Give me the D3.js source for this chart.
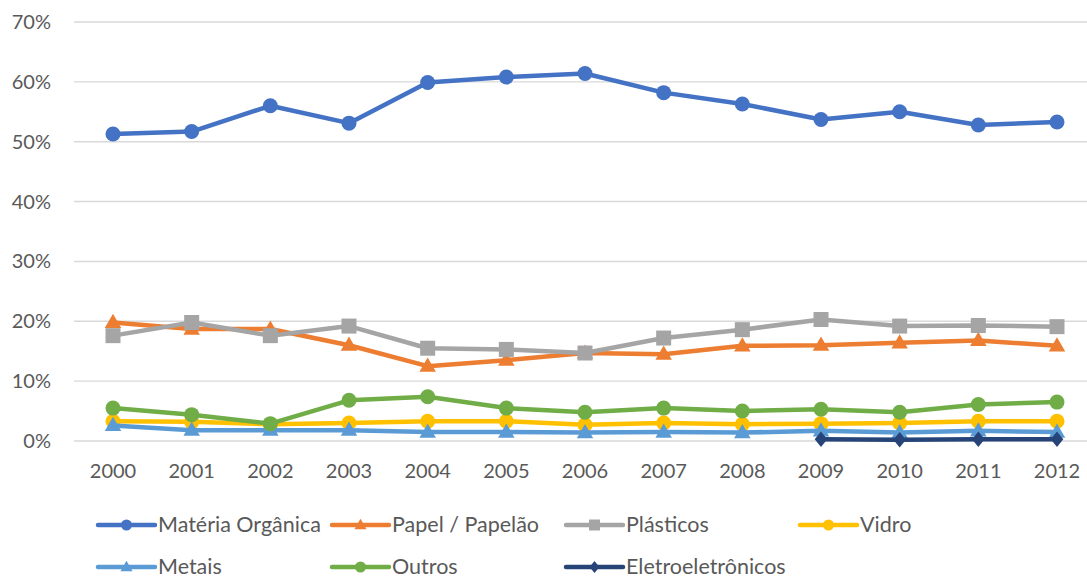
<!DOCTYPE html>
<html>
<head>
<meta charset="utf-8">
<script src="https://cdn.jsdelivr.net/npm/d3@7"></script>
<style>
  html, body { margin: 0; padding: 0; background: #fff; }
  svg { display: block; }
  text { font-family: Lato, "Open Sans", sans-serif; fill: #595959; }
</style>
</head>
<body>
<svg id="chart" width="1087" height="580"></svg>
<script>
// Anos e composição percentual dos resíduos
const years = ["2000","2001","2002","2003","2004","2005","2006","2007","2008","2009","2010","2011","2012"];
const materiaOrganica = [51.3, 51.7, 56.0, 53.1, 59.9, 60.8, 61.4, 58.2, 56.3, 53.7, 55.0, 52.8, 53.3];
const papelPapelao    = [19.8, 18.7, 18.7, 16.0, 12.5, 13.5, 14.7, 14.5, 15.9, 16.0, 16.4, 16.8, 15.9];
const plasticos       = [17.6, 19.8, 17.6, 19.2, 15.5, 15.3, 14.7, 17.2, 18.6, 20.3, 19.2, 19.3, 19.1];
const vidro           = [3.3, 3.2, 2.8, 3.0, 3.3, 3.3, 2.7, 3.0, 2.8, 2.9, 3.0, 3.3, 3.3];
const metais          = [2.6, 1.8, 1.8, 1.8, 1.5, 1.5, 1.4, 1.5, 1.4, 1.7, 1.4, 1.7, 1.5];
const outros          = [5.5, 4.4, 2.9, 6.8, 7.4, 5.5, 4.8, 5.5, 5.0, 5.3, 4.8, 6.1, 6.5];
const eletro          = [null, null, null, null, null, null, null, null, null, 0.3, 0.2, 0.3, 0.3];
const yTicks = [0, 10, 20, 30, 40, 50, 60, 70];

const seriesNames = ["Matéria Orgânica","Papel / Papelão","Plásticos","Vidro","Metais","Outros","Eletroeletrônicos"];
const seriesValues = [materiaOrganica, papelPapelao, plasticos, vidro, metais, outros, eletro];
const seriesColors = ["#4472C4","#ED7D31","#A5A5A5","#FFC000","#5B9BD5","#70AD47","#264478"];
const seriesMarkers = ["circle","triangle","square","circle","triangle","circle","diamond"];

const svg = d3.select("#chart");

const x = d3.scalePoint().domain(years).range([113, 1057]);
const y = d3.scaleLinear().domain([0, 70]).range([441, 22]);

// Gridlines
svg.append("g").selectAll("line").data(yTicks).join("line")
  .attr("x1", 74).attr("x2", 1096)
  .attr("y1", d => y(d)).attr("y2", d => y(d))
  .attr("stroke", "#D9D9D9").attr("stroke-width", 1.4);

// Y axis labels
svg.append("g").selectAll("text").data(yTicks).join("text")
  .attr("x", 51).attr("y", d => y(d) + 7)
  .attr("text-anchor", "end")
  .attr("font-size", 20)
  .text(d => d + "%");

// X axis labels
svg.append("g").selectAll("text").data(years).join("text")
  .attr("x", d => x(d)).attr("y", 478)
  .attr("text-anchor", "middle")
  .attr("font-size", 20)
  .text(d => d);

function markerPath(type, size) {
  const s = size;
  if (type === "circle") return d3.symbol(d3.symbolCircle, Math.PI * s * s)();
  if (type === "square") return `M${-s},${-s}H${s}V${s}H${-s}Z`;
  if (type === "triangle") return `M0,${-s * 1.15}L${s * 1.1},${s * 0.75}L${-s * 1.1},${s * 0.75}Z`;
  if (type === "diamond") return `M0,${-s * 1.1}L${s * 0.9},0L0,${s * 1.1}L${-s * 0.9},0Z`;
}
const markerSize = { circle: 7.5, square: 7.5, triangle: 7.5, diamond: 7 };

const line = d3.line()
  .defined(d => d.v !== null)
  .x(d => x(d.year)).y(d => y(d.v));

seriesNames.forEach((name, i) => {
  const pts = years.map((yr, j) => ({ year: yr, v: seriesValues[i][j] }));
  const g = svg.append("g");
  g.append("path").datum(pts)
    .attr("d", line)
    .attr("fill", "none")
    .attr("stroke", seriesColors[i])
    .attr("stroke-width", 4.5)
    .attr("stroke-linejoin", "round")
    .attr("stroke-linecap", "round");
  g.selectAll("path.m").data(pts.filter(d => d.v !== null)).join("path")
    .attr("class", "m")
    .attr("transform", d => `translate(${x(d.year)},${y(d.v)})`)
    .attr("d", markerPath(seriesMarkers[i], markerSize[seriesMarkers[i]]))
    .attr("fill", seriesColors[i]);
});

// Legend
const legendCols = [98, 332, 566, 800];
const legendRows = [525, 567];
seriesNames.forEach((name, i) => {
  const lx = legendCols[i % 4], ly = legendRows[Math.floor(i / 4)];
  const g = svg.append("g").attr("transform", `translate(${lx},${ly})`);
  g.append("line").attr("x1", 0).attr("x2", 57).attr("y1", 0).attr("y2", 0)
    .attr("stroke", seriesColors[i]).attr("stroke-width", 4.5).attr("stroke-linecap", "round");
  g.append("path").attr("transform", "translate(28.5,0)")
    .attr("d", markerPath(seriesMarkers[i], 5.5))
    .attr("fill", seriesColors[i]);
  g.append("text").attr("x", 60).attr("y", 7).attr("font-size", 21.5).text(name);
});
</script>
</body>
</html>
